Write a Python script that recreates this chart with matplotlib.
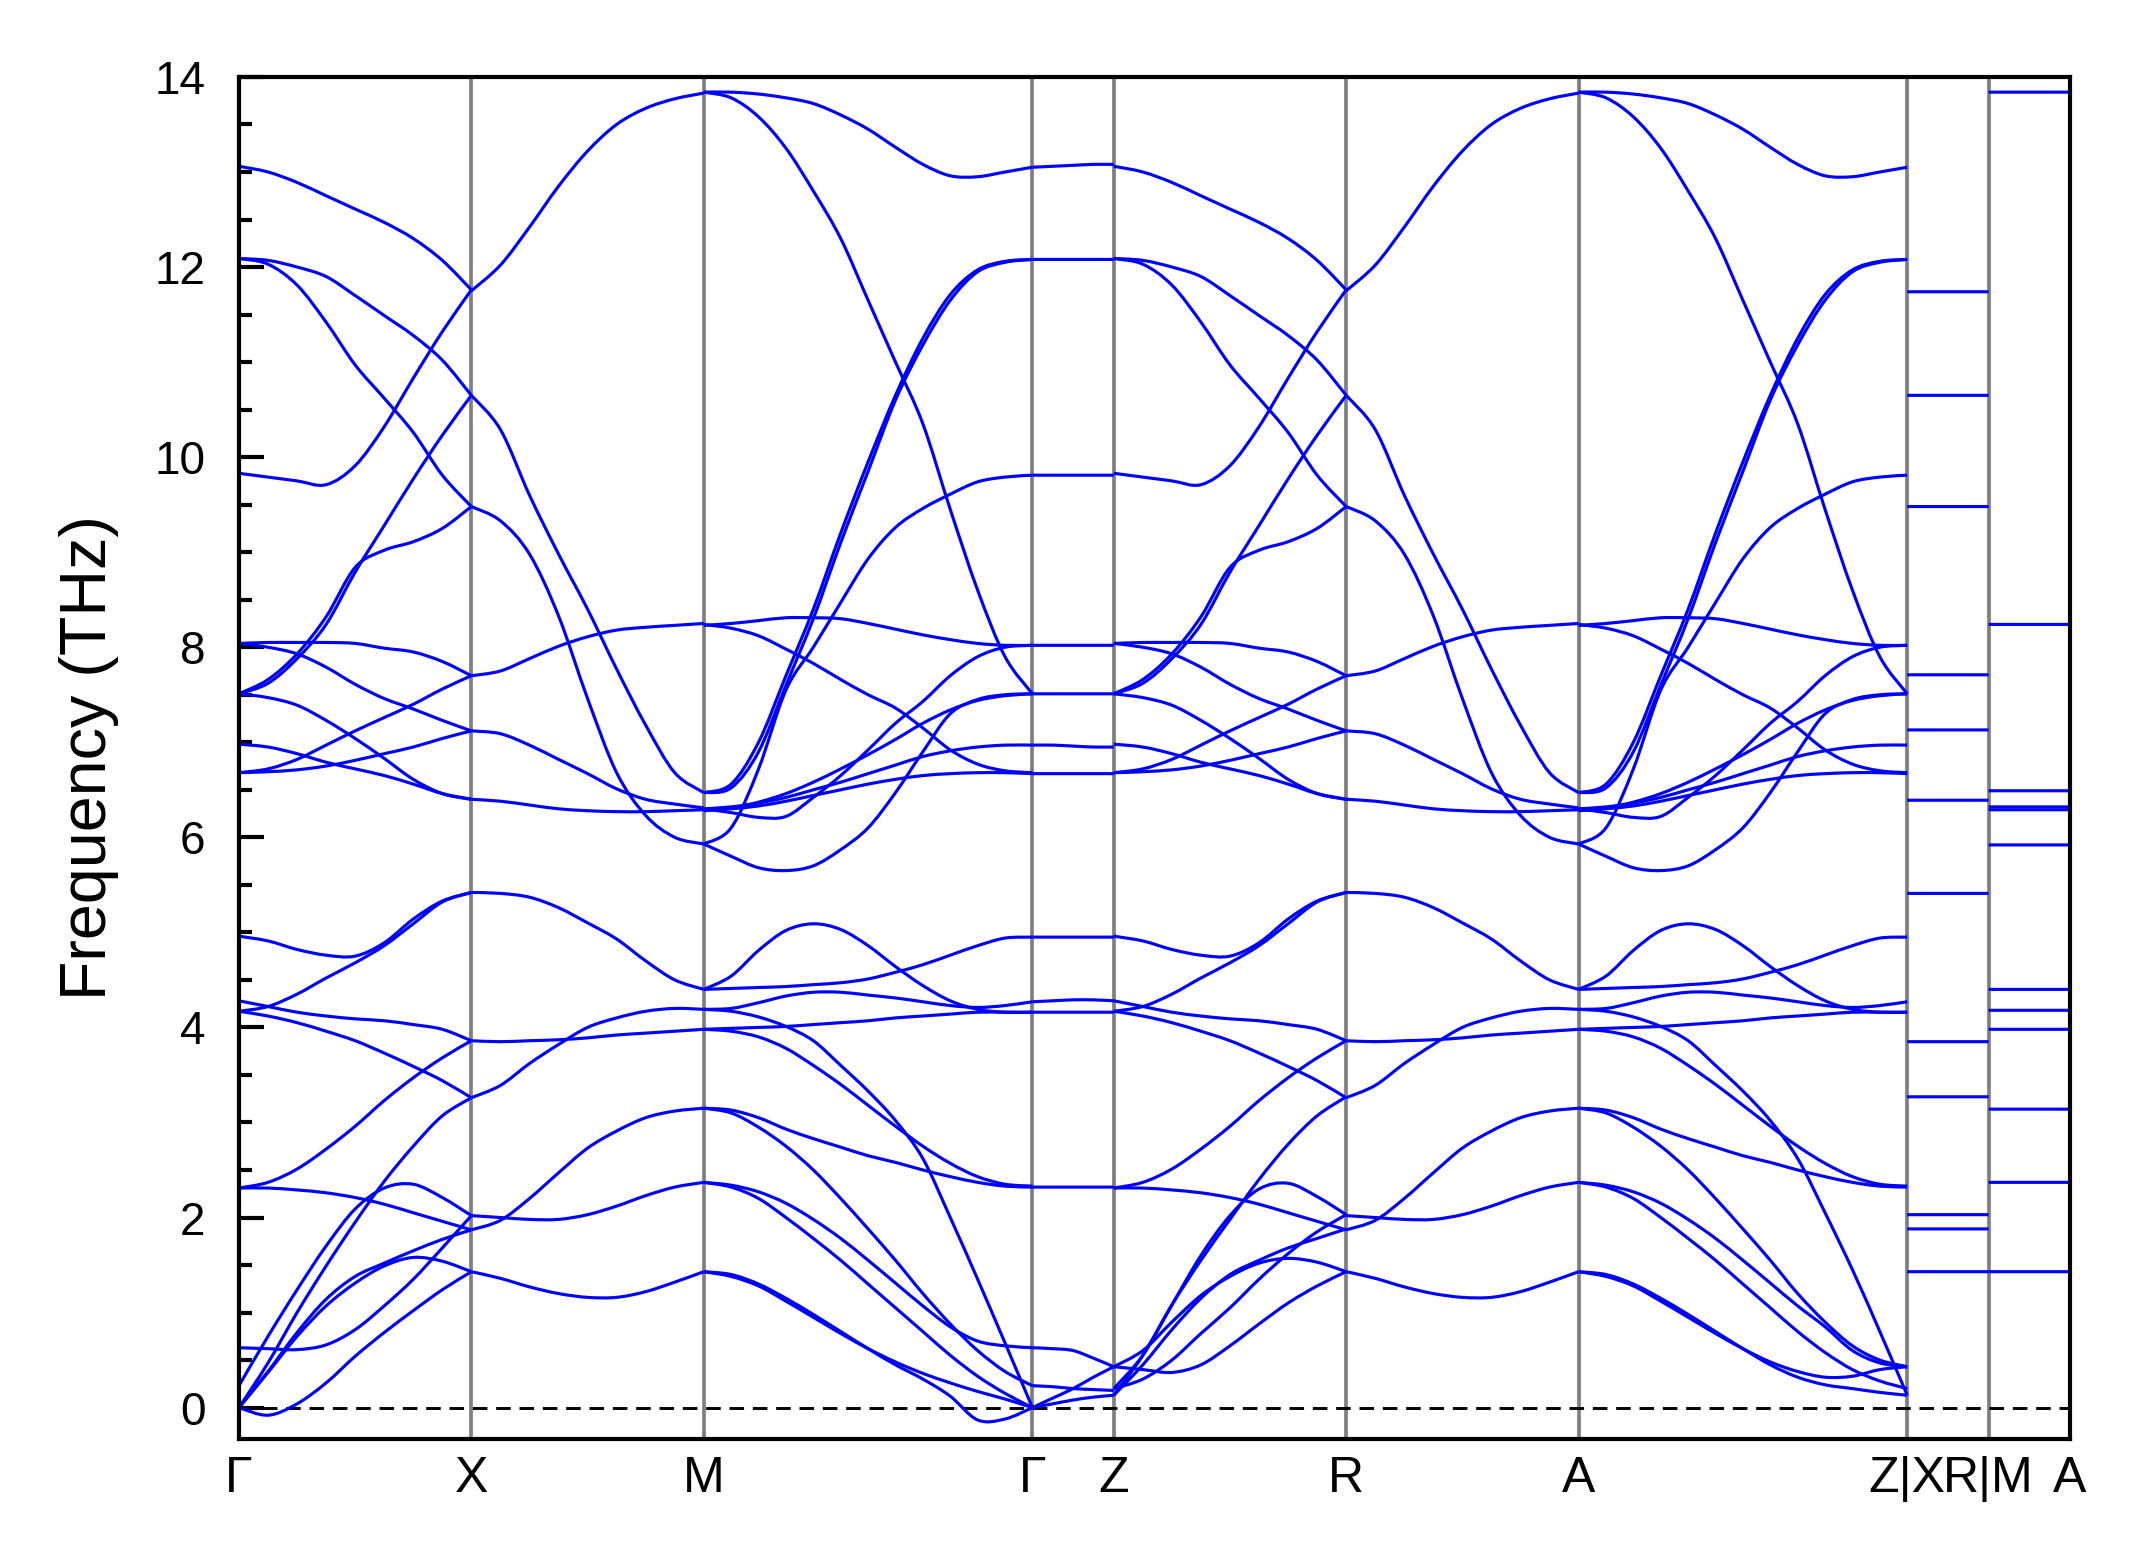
import numpy as np
import matplotlib
matplotlib.use("Agg")
import matplotlib.pyplot as plt
from matplotlib.path import Path
from matplotlib.patches import PathPatch

plt.rcParams["font.family"] = ["Liberation Sans", "DejaVu Sans"]

# high-symmetry path; segment lengths in units of 2pi/a (c* ~ 0.35)
PATH_LABELS = ["Γ", "X", "M", "Γ", "Z", "R", "A", "Z|X", "R|M", "A"]
SEG_LENGTHS = [1.0, 1.0, 1.414, 0.35, 1.0, 1.0, 1.414, 0.35, 0.35]

# phonon frequencies (THz), equally spaced samples along each segment
# Γ-X (also Z-R above ~2 THz)
GX_HIGH = [
    [13.06, 13.00, 12.89, 12.75, 12.61, 12.47, 12.30, 12.07, 11.76],
    [12.09, 12.07, 12.00, 11.90, 11.70, 11.49, 11.28, 11.02, 10.65],
    [12.09, 12.03, 11.81, 11.42, 10.97, 10.62, 10.26, 9.81, 9.48],
    [9.83, 9.79, 9.75, 9.71, 9.91, 10.32, 10.83, 11.32, 11.76],
    [7.51, 7.62, 7.88, 8.24, 8.79, 9.28, 9.77, 10.23, 10.65],
    [7.51, 7.66, 7.93, 8.32, 8.84, 9.02, 9.11, 9.25, 9.48],
    [8.04, 8.05, 8.05, 8.05, 8.04, 7.99, 7.95, 7.85, 7.70],
    [8.04, 8.00, 7.93, 7.79, 7.61, 7.46, 7.35, 7.23, 7.12],
    [7.51, 7.47, 7.39, 7.23, 7.04, 6.83, 6.61, 6.46, 6.40],
    [6.98, 6.95, 6.88, 6.79, 6.72, 6.65, 6.56, 6.46, 6.40],
    [6.68, 6.72, 6.82, 6.97, 7.12, 7.26, 7.40, 7.56, 7.70],
    [6.68, 6.69, 6.71, 6.75, 6.81, 6.88, 6.95, 7.04, 7.12],
    [4.96, 4.91, 4.82, 4.76, 4.75, 4.89, 5.14, 5.33, 5.42],
    [4.17, 4.22, 4.35, 4.52, 4.68, 4.86, 5.09, 5.32, 5.42],
    [4.28, 4.22, 4.16, 4.12, 4.09, 4.07, 4.03, 3.98, 3.86],
    [4.17, 4.12, 4.05, 3.96, 3.86, 3.73, 3.59, 3.44, 3.26],
    [2.31, 2.37, 2.51, 2.72, 2.96, 3.23, 3.47, 3.68, 3.86],
    [2.31, 2.31, 2.29, 2.26, 2.21, 2.14, 2.05, 1.96, 1.87],
]
GX_LOW = [
    [0.23, 0.75, 1.24, 1.70, 2.09, 2.31, 2.35, 2.21, 2.02],
    [0.00, 0.47, 1.00, 1.49, 1.95, 2.38, 2.75, 3.07, 3.26],
    [0.63, 0.62, 0.61, 0.66, 0.82, 1.07, 1.35, 1.68, 2.02],
    [0.00, 0.37, 0.75, 1.07, 1.31, 1.49, 1.58, 1.54, 1.43],
    [0.00, 0.38, 0.79, 1.14, 1.38, 1.52, 1.65, 1.77, 1.87],
    [0.00, -0.08, 0.04, 0.26, 0.54, 0.79, 1.02, 1.24, 1.43],
]
ZR_LOW = [
    [0.43, 0.60, 0.90, 1.18, 1.38, 1.52, 1.57, 1.53, 1.43],
    [0.13, 0.45, 0.82, 1.15, 1.40, 1.55, 1.68, 1.78, 1.88],
    [0.20, 0.55, 1.08, 1.60, 2.02, 2.30, 2.36, 2.22, 2.03],
    [0.43, 0.40, 0.37, 0.45, 0.65, 0.88, 1.10, 1.28, 1.43],
    [0.20, 0.30, 0.50, 0.78, 1.05, 1.35, 1.62, 1.85, 2.03],
    [0.13, 0.55, 1.08, 1.55, 1.98, 2.40, 2.77, 3.07, 3.27],
]

# X-M (same as R-A)
XM = [
    [11.75, 12.02, 12.42, 12.85, 13.22, 13.50, 13.67, 13.77, 13.83],
    [10.65, 10.29, 9.60, 8.98, 8.40, 7.77, 7.18, 6.68, 6.47],
    [9.48, 9.33, 8.98, 8.33, 7.46, 6.68, 6.23, 6.00, 5.93],
    [7.70, 7.75, 7.88, 8.01, 8.11, 8.18, 8.21, 8.23, 8.25],
    [7.12, 7.09, 6.97, 6.82, 6.67, 6.51, 6.40, 6.35, 6.31],
    [6.40, 6.38, 6.34, 6.30, 6.28, 6.27, 6.27, 6.28, 6.29],
    [5.42, 5.41, 5.37, 5.26, 5.10, 4.93, 4.70, 4.50, 4.40],
    [3.86, 3.85, 3.86, 3.87, 3.89, 3.92, 3.94, 3.96, 3.98],
    [3.26, 3.39, 3.62, 3.82, 4.00, 4.10, 4.17, 4.20, 4.19],
    [2.02, 2.00, 1.98, 1.98, 2.03, 2.12, 2.23, 2.32, 2.37],
    [1.87, 1.97, 2.20, 2.47, 2.73, 2.91, 3.05, 3.12, 3.15],
    [1.43, 1.36, 1.27, 1.20, 1.16, 1.16, 1.22, 1.32, 1.43],
]

# M-Γ (also A-Z above ~2 THz)
MG_HIGH = [
    [13.84, 13.84, 13.82, 13.78, 13.72, 13.60, 13.45, 13.26, 13.08, 12.96, 12.95, 13.00, 13.05],
    [13.84, 13.78, 13.58, 13.25, 12.80, 12.30, 11.65, 11.00, 10.35, 9.45, 8.60, 7.90, 7.51],
    [6.47, 6.56, 7.00, 7.70, 8.40, 9.20, 9.95, 10.65, 11.25, 11.71, 11.97, 12.06, 12.08],
    [6.47, 6.52, 6.90, 7.60, 8.30, 9.10, 9.85, 10.60, 11.18, 11.65, 11.95, 12.05, 12.08],
    [5.93, 6.10, 6.72, 7.55, 8.00, 8.47, 8.93, 9.26, 9.46, 9.61, 9.74, 9.79, 9.81],
    [8.23, 8.25, 8.28, 8.31, 8.31, 8.30, 8.25, 8.19, 8.13, 8.08, 8.04, 8.02, 8.02],
    [8.24, 8.20, 8.12, 7.98, 7.83, 7.66, 7.50, 7.36, 7.15, 6.92, 6.77, 6.70, 6.68],
    [6.30, 6.26, 6.21, 6.22, 6.42, 6.65, 6.92, 7.20, 7.43, 7.70, 7.90, 8.00, 8.02],
    [5.93, 5.80, 5.68, 5.65, 5.70, 5.87, 6.10, 6.47, 6.90, 7.30, 7.45, 7.50, 7.51],
    [6.30, 6.32, 6.36, 6.42, 6.50, 6.58, 6.67, 6.76, 6.85, 6.91, 6.95, 6.97, 6.97],
    [6.28, 6.30, 6.33, 6.38, 6.44, 6.50, 6.56, 6.61, 6.65, 6.67, 6.68, 6.68, 6.67],
    [6.28, 6.31, 6.37, 6.46, 6.58, 6.72, 6.87, 7.03, 7.20, 7.34, 7.44, 7.49, 7.51],
    [4.40, 4.41, 4.42, 4.43, 4.45, 4.47, 4.51, 4.58, 4.66, 4.76, 4.86, 4.94, 4.95],
    [4.40, 4.54, 4.81, 5.02, 5.09, 5.03, 4.86, 4.64, 4.44, 4.28, 4.19, 4.16, 4.16],
    [4.19, 4.20, 4.26, 4.33, 4.37, 4.37, 4.34, 4.31, 4.27, 4.23, 4.21, 4.23, 4.27],
    [3.98, 3.99, 4.00, 4.01, 4.03, 4.05, 4.07, 4.10, 4.12, 4.14, 4.16, 4.16, 4.16],
    [3.98, 3.96, 3.90, 3.78, 3.60, 3.40, 3.18, 2.96, 2.75, 2.57, 2.43, 2.35, 2.33],
    [3.15, 3.13, 3.05, 2.93, 2.83, 2.74, 2.65, 2.58, 2.50, 2.43, 2.37, 2.33, 2.32],
]
MG_LOW = [
    [4.19, 4.17, 4.11, 4.01, 3.86, 3.60, 3.33, 3.02, 2.62, 2.00, 1.35, 0.68, 0.00],
    [3.15, 3.10, 2.95, 2.75, 2.50, 2.20, 1.88, 1.55, 1.20, 0.88, 0.60, 0.38, 0.23],
    [2.37, 2.34, 2.27, 2.15, 1.98, 1.78, 1.55, 1.31, 1.07, 0.85, 0.70, 0.65, 0.63],
    [2.37, 2.32, 2.20, 2.00, 1.78, 1.55, 1.30, 1.05, 0.80, 0.55, 0.33, 0.15, 0.00],
    [1.43, 1.40, 1.30, 1.15, 0.98, 0.80, 0.62, 0.45, 0.30, 0.12, -0.13, -0.12, 0.00],
    [1.43, 1.38, 1.28, 1.12, 0.95, 0.78, 0.62, 0.48, 0.36, 0.26, 0.17, 0.09, 0.00],
]
AZ_LOW = [
    [4.19, 4.17, 4.11, 4.01, 3.86, 3.60, 3.33, 3.02, 2.62, 2.05, 1.45, 0.80, 0.13],
    [3.15, 3.10, 2.95, 2.75, 2.50, 2.20, 1.88, 1.55, 1.20, 0.90, 0.65, 0.50, 0.43],
    [2.37, 2.34, 2.27, 2.15, 1.98, 1.78, 1.55, 1.31, 1.07, 0.85, 0.60, 0.47, 0.43],
    [2.37, 2.32, 2.20, 2.00, 1.78, 1.55, 1.30, 1.05, 0.80, 0.58, 0.40, 0.28, 0.20],
    [1.43, 1.40, 1.30, 1.15, 0.98, 0.80, 0.62, 0.45, 0.32, 0.24, 0.20, 0.16, 0.13],
    [1.43, 1.38, 1.28, 1.12, 0.95, 0.78, 0.62, 0.48, 0.38, 0.32, 0.33, 0.40, 0.43],
]

# Γ-Z
GZ = [
    [13.05, 13.06, 13.07, 13.08, 13.08],
    [12.08, 12.08, 12.08, 12.08, 12.08],
    [9.81, 9.81, 9.81, 9.81, 9.81],
    [8.02, 8.02, 8.02, 8.02, 8.02],
    [7.51, 7.51, 7.51, 7.51, 7.51],
    [6.97, 6.97, 6.96, 6.95, 6.95],
    [6.67, 6.67, 6.67, 6.67, 6.67],
    [4.95, 4.95, 4.95, 4.95, 4.95],
    [4.27, 4.28, 4.29, 4.29, 4.28],
    [4.16, 4.16, 4.16, 4.16, 4.16],
    [2.32, 2.32, 2.32, 2.32, 2.32],
    [0.63, 0.62, 0.60, 0.52, 0.43],
    [0.23, 0.22, 0.20, 0.19, 0.18],
    [0.00, 0.10, 0.20, 0.32, 0.43],
    [0.00, 0.04, 0.08, 0.11, 0.13],
]

# dispersionless X-R and M-A lines
XR_LEVELS = [1.43, 1.88, 2.03, 3.27, 3.85, 5.41, 6.39, 7.13, 7.71, 9.48, 10.65, 11.74]
MA_LEVELS = [1.43, 2.37, 3.14, 3.98, 4.18, 4.40, 5.92, 6.29, 6.32, 6.49, 8.24, 13.84]

BAND_COLOR = "#0000ff"
LW = 0.75


def band_path(xs, ys):
    # smooth Bezier path through the read points (Catmull-Rom tangents)
    pts = np.column_stack([xs, ys])
    n = len(pts)
    verts, codes = [pts[0]], [Path.MOVETO]
    for i in range(n - 1):
        p0 = pts[max(i - 1, 0)]
        p1, p2 = pts[i], pts[i + 1]
        p3 = pts[min(i + 2, n - 1)]
        verts += [p1 + (p2 - p0) / 6.0, p2 - (p3 - p1) / 6.0, p2]
        codes += [Path.CURVE4] * 3
    return Path(verts, codes)


segments = [
    GX_HIGH + GX_LOW,
    XM,
    MG_HIGH + MG_LOW,
    GZ,
    GX_HIGH + ZR_LOW,
    XM,
    MG_HIGH + AZ_LOW,
    [[v, v] for v in XR_LEVELS],
    [[v, v] for v in MA_LEVELS],
]

nodes = np.concatenate([[0.0], np.cumsum(SEG_LENGTHS)])

fig = plt.figure(figsize=(2145 / 300, 1567 / 300), dpi=300)
ax = fig.add_axes([0.1114, 0.0817, 0.8536, 0.8692])

for x in nodes[1:-1]:
    ax.axvline(x, color="gray", lw=0.9, zorder=1)
ax.axhline(0, color="black", lw=0.7, ls="--", dashes=(5, 3), zorder=1)

for i, curves in enumerate(segments):
    x0, x1 = nodes[i], nodes[i + 1]
    for c in curves:
        xs = np.linspace(x0, x1, len(c))
        ax.add_patch(PathPatch(band_path(xs, c), fill=False, edgecolor=BAND_COLOR,
                               lw=LW, zorder=2, capstyle="butt", joinstyle="round"))

ax.set_xlim(nodes[0], nodes[-1])
ax.set_ylim(-0.33, 14.0)
ax.set_xticks(nodes)
ax.set_xticklabels(PATH_LABELS, fontsize=12)
ax.tick_params(axis="x", length=0, pad=4)
ax.set_yticks(np.arange(0, 15, 2))
ax.set_yticks(np.arange(0, 14.01, 0.5), minor=True)
ax.tick_params(axis="y", which="major", direction="in", length=6, width=1.0,
               labelsize=11, pad=8)
ax.tick_params(axis="y", which="minor", direction="in", length=3, width=1.0)
for sp in ax.spines.values():
    sp.set_linewidth(1.0)

ax.set_ylabel("Frequency (THz)", fontsize=15.5, va="center")
ax.yaxis.set_label_coords(-0.082, 0.5)

fig.savefig("out.png", dpi=300)
